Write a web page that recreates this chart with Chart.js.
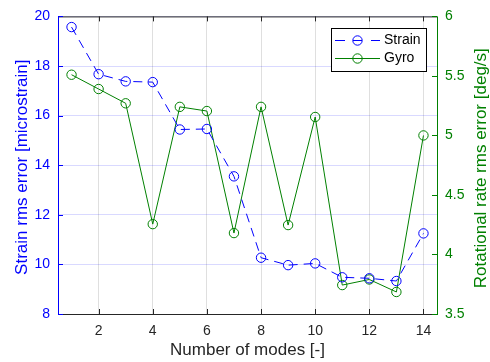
<!DOCTYPE html>
<html>
<head>
<meta charset="utf-8">
<script src="https://cdn.jsdelivr.net/npm/chart.js@4/dist/chart.umd.min.js"></script>
<style>
    html, body { margin: 0; padding: 0; background: #fff; }
    canvas { display: block; }
</style>
</head>
<body>
<canvas id="modesChart" width="490" height="362"></canvas>
<script>
var modes = [1, 2, 3, 4, 5, 6, 7, 8, 9, 10, 11, 12, 13, 14];
var strainRms = [19.57, 17.67, 17.38, 17.35, 15.44, 15.46, 13.55, 10.27, 9.97, 10.04, 9.48, 9.44, 9.33, 11.25];
var gyroRms = [5.51, 5.39, 5.27, 4.255, 5.24, 5.205, 4.18, 5.24, 4.247, 5.155, 3.743, 3.79, 3.685, 5.0];
var xTicks = [2, 4, 6, 8, 10, 12, 14];
var strainTicks = [8, 10, 12, 14, 16, 18, 20];
var gyroTicks = [3.5, 4, 4.5, 5, 5.5, 6];

var BLUE = '#0000ff';
var GREEN = '#008000';
var AXIS = '#262626';
var FONT = '"Liberation Sans", Arial, Helvetica, sans-serif';

function toPoints(ys) {
    return modes.map((m, i) => ({ x: m, y: ys[i] }));
}

function fixedTicks(values) {
    return function (scale) {
        scale.ticks = values.map(v => ({ value: v }));
    };
}

// axis box, inward ticks, rotated titles and legend (matlab look)
var framePlugin = {
    id: 'frame',
    afterDraw: function (chart) {
        var ctx = chart.ctx;
        var a = chart.chartArea;
        var sx = chart.scales.x, sl = chart.scales.y, sr = chart.scales.y1;
        var tl = 5;
        ctx.save();
        ctx.lineWidth = 1;

        ctx.strokeStyle = AXIS;
        ctx.beginPath();
        ctx.moveTo(a.left, a.top + 0.5); ctx.lineTo(a.right, a.top + 0.5);
        ctx.moveTo(a.left, a.bottom + 0.5); ctx.lineTo(a.right, a.bottom + 0.5);
        xTicks.forEach(v => {
            var px = Math.round(sx.getPixelForValue(v)) + 0.5;
            ctx.moveTo(px, a.bottom); ctx.lineTo(px, a.bottom - tl);
            ctx.moveTo(px, a.top); ctx.lineTo(px, a.top + tl);
        });
        ctx.stroke();

        ctx.strokeStyle = BLUE;
        ctx.beginPath();
        ctx.moveTo(a.left + 0.5, a.top); ctx.lineTo(a.left + 0.5, a.bottom + 1);
        strainTicks.forEach(v => {
            var py = Math.round(sl.getPixelForValue(v)) + 0.5;
            ctx.moveTo(a.left, py); ctx.lineTo(a.left + tl, py);
        });
        ctx.stroke();

        ctx.strokeStyle = GREEN;
        ctx.beginPath();
        ctx.moveTo(a.right + 0.5, a.top); ctx.lineTo(a.right + 0.5, a.bottom + 1);
        gyroTicks.forEach(v => {
            var py = Math.round(sr.getPixelForValue(v)) + 0.5;
            ctx.moveTo(a.right, py); ctx.lineTo(a.right - tl, py);
        });
        ctx.stroke();

        // axis titles
        var midY = (a.top + a.bottom) / 2;
        ctx.font = '17px ' + FONT;
        ctx.textAlign = 'center';
        ctx.textBaseline = 'alphabetic';
        ctx.fillStyle = AXIS;
        ctx.fillText('Number of modes [-]', (a.left + a.right) / 2, 355);

        ctx.fillStyle = BLUE;
        ctx.save();
        ctx.translate(27, midY + 2);
        ctx.rotate(-Math.PI / 2);
        ctx.fillText('Strain rms error [microstrain]', 0, 0);
        ctx.restore();

        ctx.fillStyle = GREEN;
        ctx.save();
        ctx.translate(486, midY + 3);
        ctx.rotate(-Math.PI / 2);
        ctx.fillText('Rotational rate rms error [deg/s]', 0, 0);
        ctx.restore();

        // legend
        var lx = 331, ly = 28, lw = 95, lh = 43;
        ctx.fillStyle = '#fff';
        ctx.fillRect(lx, ly, lw, lh);
        ctx.strokeStyle = '#000';
        ctx.strokeRect(lx + 0.5, ly + 0.5, lw, lh);
        var rows = [
            { y: 40.5, color: BLUE, dash: [10, 8, 9, 9, 9], label: 'Strain' },
            { y: 58.5, color: GREEN, dash: [], label: 'Gyro' }
        ];
        rows.forEach(r => {
            ctx.strokeStyle = r.color;
            ctx.setLineDash(r.dash);
            ctx.beginPath();
            ctx.moveTo(335, r.y); ctx.lineTo(380, r.y);
            ctx.stroke();
            ctx.setLineDash([]);
            ctx.beginPath();
            ctx.arc(357.5, r.y, 4.7, 0, Math.PI * 2);
            ctx.stroke();
            ctx.fillStyle = '#000';
            ctx.font = '14px ' + FONT;
            ctx.textAlign = 'left';
            ctx.textBaseline = 'middle';
            ctx.fillText(r.label, 384, r.y);
        });
        ctx.restore();
    }
};

var ctx = document.getElementById('modesChart').getContext('2d');

new Chart(ctx, {
    type: 'line',
    data: {
        datasets: [{
            label: 'Strain',
            data: toPoints(strainRms),
            yAxisID: 'y',
            borderColor: BLUE,
            borderWidth: 1,
            borderDash: [9, 6],
            pointStyle: 'circle',
            pointRadius: 4.7,
            pointBorderWidth: 1,
            pointBorderColor: BLUE,
            pointBackgroundColor: 'rgba(0,0,0,0)',
            fill: false,
            tension: 0
        }, {
            label: 'Gyro',
            data: toPoints(gyroRms),
            yAxisID: 'y1',
            borderColor: GREEN,
            borderWidth: 1,
            pointStyle: 'circle',
            pointRadius: 4.7,
            pointBorderWidth: 1,
            pointBorderColor: GREEN,
            pointBackgroundColor: 'rgba(0,0,0,0)',
            fill: false,
            tension: 0
        }]
    },
    options: {
        responsive: false,
        animation: false,
        devicePixelRatio: 1,
        layout: {
            padding: { left: 0, right: 0, top: 16, bottom: 0 }
        },
        plugins: {
            legend: { display: false },
            tooltip: { enabled: false }
        },
        scales: {
            x: {
                type: 'linear',
                min: 0.5,
                max: 14.5,
                afterBuildTicks: fixedTicks(xTicks),
                afterFit: function (s) { s.height = 48; },
                grid: { color: 'rgba(38,38,38,0.15)', drawTicks: false },
                border: { display: false },
                ticks: { color: AXIS, padding: 9, font: { family: FONT, size: 14 } }
            },
            y: {
                position: 'left',
                min: 8,
                max: 20,
                afterBuildTicks: fixedTicks(strainTicks),
                afterFit: function (s) { s.width = 58; },
                grid: { color: 'rgba(0,0,255,0.15)', drawTicks: false },
                border: { display: false },
                ticks: { color: BLUE, padding: 8, font: { family: FONT, size: 14 } }
            },
            y1: {
                position: 'right',
                min: 3.5,
                max: 6,
                afterBuildTicks: fixedTicks(gyroTicks),
                afterFit: function (s) { s.width = 53; },
                grid: { display: false, drawTicks: false },
                border: { display: false },
                ticks: {
                    color: GREEN,
                    padding: 8,
                    font: { family: FONT, size: 14 },
                    callback: function (v) { return String(v); }
                }
            }
        }
    },
    plugins: [framePlugin]
});
</script>
</body>
</html>
